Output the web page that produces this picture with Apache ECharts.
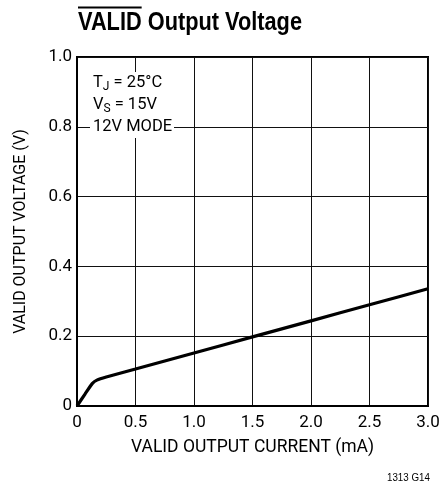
<!DOCTYPE html>
<html>
<head>
<meta charset="utf-8">
<script src="https://cdn.jsdelivr.net/npm/echarts@6/dist/echarts.min.js"></script>
<style>
html,body{margin:0;padding:0;background:#fff;}
#c{width:443px;height:489px;}
</style>
</head>
<body>
<div id="c"></div>
<script>
const currentMA = [0, 0.07, 0.13, 0.17, 0.25, 0.5, 1.0, 1.5, 2.0, 2.5, 3.0];
const voltageV  = [0, 0.035, 0.064, 0.074, 0.083, 0.106, 0.152, 0.198, 0.244, 0.29, 0.336];
const xTicks = ['0', '0.5', '1.0', '1.5', '2.0', '2.5', '3.0'];
const yTicks = ['0', '0.2', '0.4', '0.6', '0.8', '1.0'];

const FONT = 'Roboto, "Liberation Sans", sans-serif';
const TFONT = '"Liberation Sans", Arial, sans-serif';
const titleFont = 'bold 25px ' + TFONT;
const ctx = document.createElement('canvas').getContext('2d');
ctx.font = titleFont;
const fullW = ctx.measureText('VALID Output Voltage').width;
const validW = ctx.measureText('VALID').width;
const tScale = 224 / fullW;

const chart = echarts.init(document.getElementById('c'), null, {renderer: 'canvas'});
const gridLeft = 77, gridTop = 57, gridRight = 15, gridBottom = 83;

chart.setOption({
  animation: false,
  backgroundColor: '#fff',
  grid: {left: gridLeft, right: gridRight, top: gridTop, bottom: gridBottom, show: true,
    borderColor: '#000', borderWidth: 2, containLabel: false, outerBoundsMode: 'none'},
  xAxis: {
    type: 'value', min: 0, max: 3, interval: 0.5,
    name: 'VALID OUTPUT CURRENT (mA)', nameLocation: 'middle', nameGap: 33,
    nameTextStyle: {fontFamily: FONT, fontSize: 17.5, color: '#000'},
    axisLine: {show: true, lineStyle: {color: '#000', width: 2}},
    axisTick: {show: false},
    axisLabel: {fontFamily: FONT, fontSize: 17, color: '#000', margin: 8,
      formatter: v => xTicks[Math.round(v / 0.5)]},
    splitLine: {show: true, lineStyle: {color: '#111', width: 1}}
  },
  yAxis: {
    type: 'value', min: 0, max: 1, interval: 0.2,
    name: 'VALID OUTPUT VOLTAGE (V)', nameLocation: 'middle', nameGap: 48,
    nameTextStyle: {fontFamily: FONT, fontSize: 16, color: '#000'},
    axisLine: {show: true, lineStyle: {color: '#000', width: 2}},
    axisTick: {show: false},
    axisLabel: {fontFamily: FONT, fontSize: 17, color: '#000', margin: 5,
      formatter: v => yTicks[Math.round(v / 0.2)]},
    splitLine: {show: true, lineStyle: {color: '#111', width: 1}}
  },
  series: [{
    type: 'line',
    data: currentMA.map((x, i) => [x, voltageV[i]]),
    showSymbol: false,
    smooth: 0.15,
    lineStyle: {color: '#000', width: 3.2},
    clip: false
  }],
  graphic: [
    {type: 'text', x: 78, y: 11, scaleX: tScale, style: {text: 'VALID Output Voltage', font: titleFont, fill: '#000'}},
    {type: 'line', shape: {x1: 78, y1: 7.5, x2: 78 + validW * tScale, y2: 7.5}, style: {stroke: '#000', lineWidth: 2}},
    {type: 'rect', shape: {x: 90, y: 72, width: 84, height: 66}, style: {fill: '#fff'}, z: 50},
    {type: 'text', x: 93, y: 72, z: 51, style: {
      text: 'T{s|J} = 25°C\nV{s|S} = 15V\n12V MODE',
      font: '16.5px ' + FONT, fill: '#000', lineHeight: 22,
      rich: {s: {fontFamily: FONT, fontSize: 12, fill: '#000', padding: [8, 0, 0, 0]}}
    }},
    {type: 'text', x: 387, y: 472, scaleX: 0.85, style: {text: '1313 G14', font: '11.5px ' + TFONT, fill: '#000'}}
  ]
});
</script>
</body>
</html>
